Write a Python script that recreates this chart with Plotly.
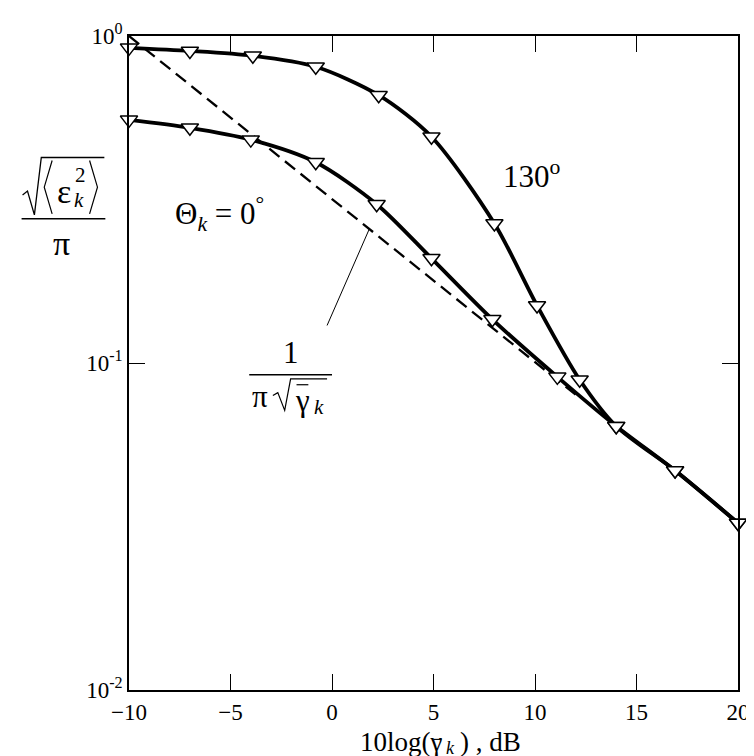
import plotly.graph_objects as go

# ---- data ----
x_130 = [-10, -7, -3.9, -0.8, 2.3, 4.9, 8.0, 10.1, 12.2, 14.0, 16.9, 20.0]
y_130 = [0.920, 0.900, 0.870, 0.805, 0.659, 0.492, 0.267, 0.150, 0.0889, 0.0641, 0.0469, 0.0324]

x_0 = [-10, -7, -4.0, -0.8, 2.2, 4.9, 7.9, 11.1, 14.0, 16.9, 20.0]
y_0 = [0.554, 0.524, 0.482, 0.411, 0.306, 0.209, 0.136, 0.0907, 0.0641, 0.0469, 0.0324]

x_asym = [-10, 12]
y_asym = [1.0, 0.080]

x_ticks = [-10, -5, 0, 5, 10, 15, 20]
x_ticktext = ["\u221210", "\u22125", "0", "5", "10", "15", "20"]
y_ticks = [0.01, 0.1, 1]
y_ticktext = ["10<sup>-2</sup>", "10<sup>-1</sup>", "10<sup>0</sup>"]

FONT = "Liberation Serif, Times New Roman, serif"
W, H = 754, 756
L, R, T, B = 121, 739, 20, 682


def px(x):
    return (x - L) / (R - L)


def py(y):
    return (B - y) / (B - T)


fig = go.Figure()

line_style = dict(color="black", width=3.8, shape="spline", smoothing=0.8)
fig.add_trace(go.Scatter(x=x_asym, y=y_asym, mode="lines",
                         line=dict(color="black", width=2.3, dash="13px,7px"),
                         cliponaxis=False, showlegend=False))
fig.add_trace(go.Scatter(x=x_0, y=y_0, mode="lines", line=line_style,
                         cliponaxis=False, showlegend=False))
fig.add_trace(go.Scatter(x=x_130, y=y_130, mode="lines", line=line_style,
                         cliponaxis=False, showlegend=False))
mk = dict(symbol="triangle-down", size=15, color="white",
          line=dict(color="black", width=1.5))
fig.add_trace(go.Scatter(x=x_0, y=y_0, mode="markers", marker=mk,
                         cliponaxis=False, showlegend=False))
fig.add_trace(go.Scatter(x=x_130, y=y_130, mode="markers", marker=mk,
                         cliponaxis=False, showlegend=False))

ann = []
shapes = []


def text(x, y, s, size=28, xanchor="center", yanchor="middle"):
    ann.append(dict(x=px(x), y=py(y), xref="paper", yref="paper", text=s,
                    showarrow=False, xanchor=xanchor, yanchor=yanchor,
                    font=dict(family=FONT, size=size, color="black")))


def path(points, width=1.3):
    d = "M " + " L ".join(f"{px(a):.5f},{py(b):.5f}" for a, b in points)
    shapes.append(dict(type="path", path=d, xref="paper", yref="paper",
                       line=dict(color="black", width=width)))


# curve labels
text(530, 160, "130<sup>o</sup>", 31)
text(213, 200, "\u0398<sub><i>k</i></sub> = 0<sup>\u00b0</sup>", 31)

# pointer line to the asymptote
path([(365, 215), (322, 313)], 1)

# 1 / (pi sqrt(gamma_k))
text(285, 340, "1", 31)
path([(243, 363), (327, 363)], 1.5)
text(254, 385, "\u03c0", 31)
path([(267, 384), (272, 381), (279, 399), (285, 367), (322, 367)], 1.2)
text(297, 389, "\u03b3", 31)
path([(291, 373), (303, 373)], 1.2)
text(314, 396, "<i>k</i>", 21)

# y-axis label: sqrt(<eps_k^2>) / pi
path([(13, 181), (18, 177), (25, 201), (32, 143), (96, 143)], 1.3)
path([(43, 146), (35, 173), (43, 200)], 1.2)
text(55, 177, "\u03b5", 34)
text(72, 161, "2", 21)
text(70, 186, "<i>k</i>", 21)
path([(81, 146), (89, 173), (81, 200)], 1.2)
path([(12, 205), (97, 205)], 1.5)
text(53, 230, "\u03c0", 34)

# x-axis title, built from pieces so the subscript stays inside the page
text(441, 735, "10log(\u03b3", 27, xanchor="right")
path([(430, 732), (438, 732)], 1.1)
text(447, 741, "<i>k</i>", 18)
text(455, 735, ") , dB", 27, xanchor="left")

fig.update_layout(
    width=W, height=H,
    margin=dict(l=L, r=W - R, t=T, b=H - B),
    paper_bgcolor="white", plot_bgcolor="white",
    annotations=ann, shapes=shapes,
    font=dict(family=FONT, color="black"),
    xaxis=dict(range=[-10, 20], tickvals=x_ticks, ticktext=x_ticktext,
               ticks="inside", ticklen=16, tickwidth=1, tickcolor="black",
               showline=True, linecolor="black", linewidth=1.5, mirror="ticks",
               showgrid=False, zeroline=False, ticklabelstandoff=1,
               tickfont=dict(family=FONT, size=23, color="black")),
    yaxis=dict(type="log", range=[-2, 0], tickvals=y_ticks, ticktext=y_ticktext,
               ticks="inside", ticklen=16, tickwidth=1, tickcolor="black",
               showline=True, linecolor="black", linewidth=1.5, mirror="ticks",
               showgrid=False, zeroline=False,
               tickfont=dict(family=FONT, size=23, color="black")),
)

fig.write_html("out.html")
